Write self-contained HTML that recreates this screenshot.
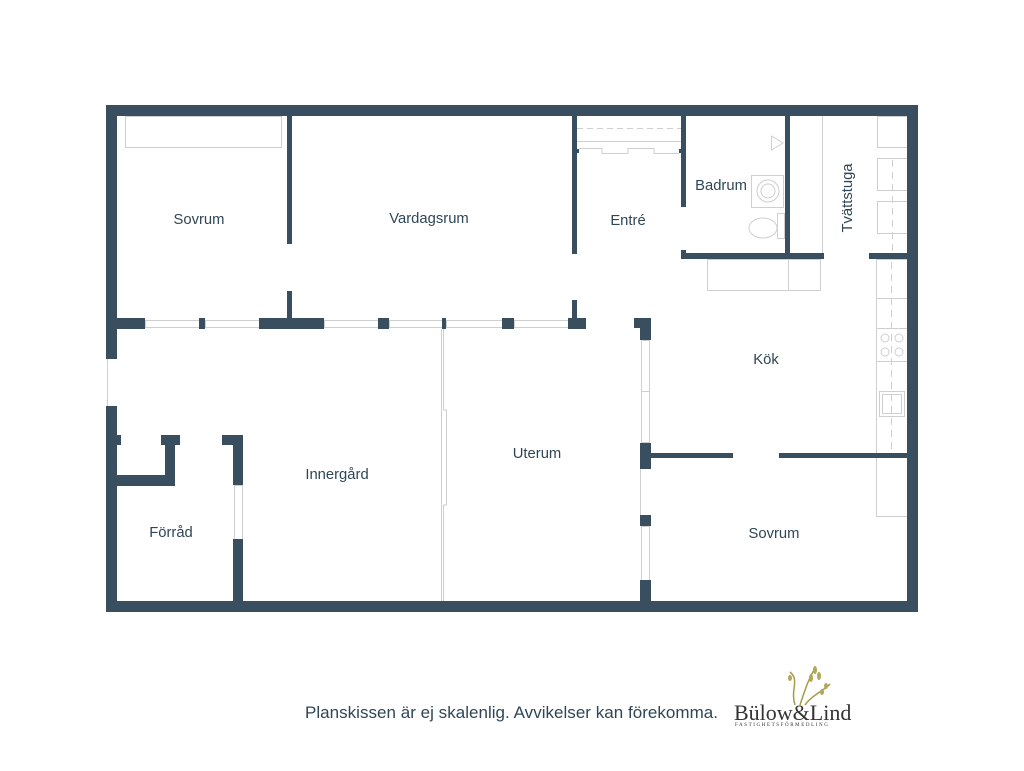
<!DOCTYPE html>
<html><head><meta charset="utf-8"><style>
html,body{margin:0;padding:0;background:#fff;width:1024px;height:771px;overflow:hidden}
svg{display:block}
.t{font-family:"Liberation Sans",sans-serif;font-size:14.8px;fill:#2f4656}
</style></head><body>
<svg width="1024" height="771" viewBox="0 0 1024 771" xmlns="http://www.w3.org/2000/svg">
<g fill="none" stroke="#cfcfcf" stroke-width="1">
  <rect x="125.5" y="116.5" width="156" height="31"/>
  <line x1="577" y1="128.5" x2="681" y2="128.5" stroke-dasharray="6,4"/>
  <line x1="577" y1="141.5" x2="681" y2="141.5"/>
  <polyline points="579,148.5 602,148.5 602,153.5 628,153.5 628,148.5 654,148.5 654,153.5 679,153.5"/>
  <polygon points="771.5,136 771.5,150 783,143"/>
  <rect x="751.5" y="175.5" width="32" height="32"/>
  <circle cx="768" cy="191" r="11"/>
  <circle cx="768" cy="191" r="7"/>
  <ellipse cx="763" cy="228" rx="14" ry="10"/>
  <rect x="777.5" y="213.5" width="7" height="25"/>
  <line x1="822.5" y1="116" x2="822.5" y2="253"/>
  <rect x="877.5" y="116.5" width="30" height="31"/>
  <rect x="877.5" y="158.5" width="30" height="32"/>
  <rect x="877.5" y="201.5" width="30" height="32"/>
  <line x1="892.5" y1="160" x2="892.5" y2="253" stroke-dasharray="7,5"/>
  <rect x="707.5" y="259.5" width="113" height="31"/>
  <line x1="788.5" y1="259" x2="788.5" y2="291"/>
  <rect x="876.5" y="259.5" width="31" height="257"/>
  <line x1="876" y1="298.5" x2="907" y2="298.5"/>
  <line x1="876" y1="328.5" x2="907" y2="328.5"/>
  <line x1="876" y1="361.5" x2="907" y2="361.5"/>
  <line x1="891.5" y1="262" x2="891.5" y2="450" stroke-dasharray="7,5"/>
  <circle cx="885" cy="338" r="4"/><circle cx="899" cy="338" r="4"/>
  <circle cx="885" cy="352" r="4"/><circle cx="899" cy="352" r="4"/>
  <rect x="879.5" y="391.5" width="25" height="25"/>
  <rect x="882.5" y="394.5" width="19" height="19"/>
  <rect x="145.5" y="320.5" width="54" height="7"/>
  <rect x="205.5" y="320.5" width="54" height="7"/>
  <rect x="324.5" y="320.5" width="54" height="7"/>
  <rect x="389.5" y="320.5" width="53" height="7"/>
  <rect x="446.5" y="320.5" width="56" height="7"/>
  <rect x="514.5" y="320.5" width="54" height="7"/>
  <polyline points="443.5,329 443.5,410 446.5,410 446.5,505 443.5,505 443.5,601"/>
  <line x1="441.5" y1="329" x2="441.5" y2="601"/>
  <line x1="107.5" y1="359" x2="107.5" y2="406"/>
  <rect x="234.5" y="485.5" width="8" height="54"/>
  <rect x="641.5" y="340.5" width="8" height="51"/>
  <rect x="641.5" y="391.5" width="8" height="51"/>
  <line x1="640.5" y1="469" x2="640.5" y2="515"/>
  <rect x="641.5" y="526.5" width="8" height="54"/>
</g>
<g fill="#394f5f">
  <rect x="106" y="105" width="812" height="11"/>
  <rect x="106" y="601" width="812" height="11"/>
  <rect x="907" y="105" width="11" height="507"/>
  <rect x="106" y="105" width="11" height="254"/>
  <rect x="106" y="406" width="11" height="206"/>
  <rect x="117" y="318" width="28" height="11"/>
  <rect x="199" y="318" width="6" height="11"/>
  <rect x="259" y="318" width="65" height="11"/>
  <rect x="378" y="318" width="11" height="11"/>
  <rect x="442" y="318" width="4" height="11"/>
  <rect x="502" y="318" width="12" height="11"/>
  <rect x="568" y="318" width="18" height="11"/>
  <rect x="287" y="116" width="5" height="128"/>
  <rect x="287" y="291" width="5" height="27"/>
  <rect x="572" y="116" width="5" height="138"/>
  <rect x="572" y="300" width="5" height="18"/>
  <rect x="576" y="149" width="3" height="4"/>
  <rect x="681" y="116" width="5" height="91"/>
  <rect x="679" y="149" width="3" height="4"/>
  <rect x="681" y="250" width="5" height="8"/>
  <rect x="681" y="253" width="143" height="6"/>
  <rect x="785" y="116" width="5" height="140"/>
  <rect x="869" y="253" width="38" height="6"/>
  <rect x="634" y="318" width="17" height="10"/>
  <rect x="640" y="318" width="11" height="22"/>
  <rect x="640" y="443" width="11" height="26"/>
  <rect x="651" y="453" width="82" height="5"/>
  <rect x="779" y="453" width="128" height="5"/>
  <rect x="640" y="515" width="11" height="11"/>
  <rect x="640" y="580" width="11" height="21"/>
  <rect x="117" y="435" width="4" height="10"/>
  <rect x="161" y="435" width="19" height="10"/>
  <rect x="165" y="435" width="10" height="50"/>
  <rect x="117" y="475" width="58" height="11"/>
  <rect x="222" y="435" width="21" height="10"/>
  <rect x="233" y="435" width="10" height="50"/>
  <rect x="233" y="539" width="10" height="62"/>
</g>
<text class="t" x="199" y="224" text-anchor="middle">Sovrum</text>
<text class="t" x="429" y="223" text-anchor="middle">Vardagsrum</text>
<text class="t" x="628" y="225" text-anchor="middle">Entré</text>
<text class="t" x="721" y="190" text-anchor="middle">Badrum</text>
<text class="t" x="0" y="0" text-anchor="middle" transform="translate(852,198) rotate(-90)">Tvättstuga</text>
<text class="t" x="766" y="364" text-anchor="middle">Kök</text>
<text class="t" x="537" y="458" text-anchor="middle">Uterum</text>
<text class="t" x="337" y="479" text-anchor="middle">Innergård</text>
<text class="t" x="171" y="537" text-anchor="middle">Förråd</text>
<text class="t" x="774" y="538" text-anchor="middle">Sovrum</text>
<text x="305" y="718" textLength="413" style="font-family:'Liberation Sans',sans-serif;font-size:17px;fill:#2f4656">Planskissen är ej skalenlig. Avvikelser kan förekomma.</text>
<g stroke="#a59a4a" stroke-width="1.5" fill="none">
  <path d="M800,705 C805,690 808,680 815,668"/>
  <path d="M795,705 C790,690 800,680 790,672"/>
  <path d="M805,705 C812,695 825,690 830,684"/>
</g>
<g fill="#b3a85a">
  <ellipse cx="815" cy="670" rx="2" ry="4"/><ellipse cx="811" cy="678" rx="2" ry="4"/>
  <ellipse cx="819" cy="676" rx="2" ry="4"/><ellipse cx="826" cy="686" rx="2" ry="3"/>
  <ellipse cx="822" cy="692" rx="2" ry="3"/><ellipse cx="790" cy="678" rx="2" ry="3"/>
</g>
<text x="734" y="720" style="font-family:'Liberation Serif',serif;font-size:22px;fill:#333">Bülow&amp;Lind</text>
<text x="735" y="726" style="font-family:'Liberation Serif',serif;font-size:5px;letter-spacing:1.6px;fill:#333">FASTIGHETSFÖRMEDLING</text>
</svg>
</body></html>
